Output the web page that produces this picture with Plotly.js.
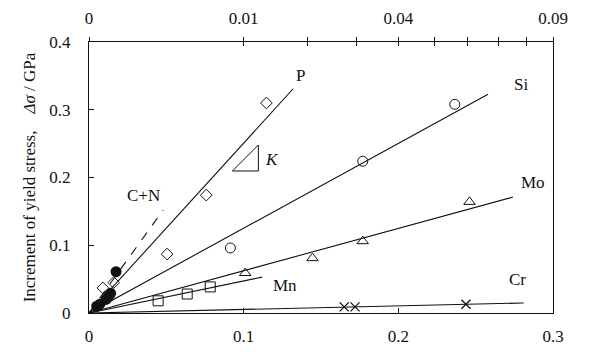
<!DOCTYPE html>
<html><head><meta charset="utf-8">
<script src="https://cdn.plot.ly/plotly-3.0.1.min.js"></script>
<style>html,body{margin:0;padding:0;background:#fff}#c{width:590px;height:356px}</style>
</head><body><div id="c"></div>
<script>
// sqrt(concentration) on bottom axis, concentration on top axis
var pX = [0.009, 0.016, 0.0505, 0.0758, 0.1147];
var pY = [0.037, 0.045, 0.087, 0.174, 0.310];
var siX = [0.0914, 0.177, 0.2365];
var siY = [0.096, 0.224, 0.308];
var moX = [0.101, 0.1445, 0.177, 0.246];
var moY = [0.059, 0.081, 0.106, 0.164];
var mnX = [0.0447, 0.0635, 0.0784];
var mnY = [0.018, 0.028, 0.0385];
var crX = [0.165, 0.172, 0.2437];
var crY = [0.009, 0.009, 0.013];
var cnX = [0.005, 0.007, 0.011, 0.0125, 0.014, 0.0175];
var cnY = [0.010, 0.013, 0.020, 0.024, 0.029, 0.061];

var lineNames = ['P', 'Si', 'Mo', 'Mn', 'Cr', 'C+N'];
var lineEndX = [0.132, 0.258, 0.274, 0.112, 0.281, 0.048];
var lineEndY = [0.331, 0.323, 0.171, 0.053, 0.0148, 0.152];

var topTickConc = [0, 0.01, 0.02, 0.03, 0.04, 0.05, 0.06, 0.07, 0.08, 0.09];
var topTickText = ['0', '0.01', '', '', '0.04', '', '', '', '', '0.09'];
var bottomTicks = [0, 0.1, 0.2, 0.3];
var yTicks = [0, 0.1, 0.2, 0.3, 0.4];

var F = 'Liberation Serif, Times New Roman, serif';
var FS = 17;
var traces = [];
for (var i = 0; i < lineNames.length; i++) {
  traces.push({x: [0, lineEndX[i]], y: [0, lineEndY[i]], mode: 'lines', type: 'scatter',
    line: {color: '#111', width: 1.1, dash: lineNames[i] === 'C+N' ? 'dash' : 'solid'},
    hoverinfo: 'skip', showlegend: false});
}
function mk(x, y, sym, size, w) {
  return {x: x, y: y, mode: 'markers', type: 'scatter', showlegend: false,
    marker: {symbol: sym, size: size, color: '#111', line: {color: '#111', width: w}}};
}
traces.push(mk(pX, pY, 'diamond-open', 9, 1));
traces.push(mk(siX, siY, 'circle-open', 10, 1));
traces.push(mk(moX, moY, 'triangle-up-open', 10, 1));
traces.push(mk(mnX, mnY, 'square-open', 10, 1));
traces.push(mk(crX, crY, 'x-thin-open', 9, 1.3));
traces.push(mk(cnX, cnY, 'circle', 11, 0));
// top axis carriers
var topVals = topTickConc.map(function (c) { return Math.sqrt(c); });
traces.push({x: [0, 0.3], y: [0, 0], xaxis: 'x2', mode: 'markers', marker: {opacity: 0}, hoverinfo: 'skip', showlegend: false});
traces.push({x: [0, 0.3], y: [0, 0], xaxis: 'x3', mode: 'markers', marker: {opacity: 0}, hoverinfo: 'skip', showlegend: false});

function ann(x, y, t, italic) {
  return {x: x, y: y, xref: 'x', yref: 'y', text: italic ? '<i>' + t + '</i>' : t, showarrow: false,
    font: {family: F, size: FS, color: '#111'}};
}
var tf = {family: F, size: FS, color: '#111'};
var layout = {
  width: 590, height: 356,
  margin: {l: 89, r: 37, t: 42, b: 43},
  paper_bgcolor: '#fff', plot_bgcolor: '#fff',
  font: tf,
  xaxis: {range: [0, 0.3], tickvals: bottomTicks, ticktext: ['0', '0.1', '0.2', '0.3'],
    ticks: 'inside', ticklen: 5, tickcolor: '#111', showgrid: false, zeroline: false,
    showline: true, linecolor: '#111', linewidth: 1.2, ticklabelstandoff: 7, tickfont: tf},
  xaxis2: {overlaying: 'x', side: 'top', range: [0, 0.3], tickvals: topVals, ticktext: topTickText,
    ticks: 'outside', ticklen: 4, tickcolor: '#111', showgrid: false, zeroline: false,
    showline: true, linecolor: '#111', linewidth: 1.2, ticklabelstandoff: 6, tickfont: tf},
  xaxis3: {overlaying: 'x', side: 'top', range: [0, 0.3], tickvals: topVals, showticklabels: false,
    ticks: 'inside', ticklen: 4, tickcolor: '#111', showgrid: false, zeroline: false, showline: false},
  yaxis: {range: [0, 0.4], tickvals: yTicks, ticktext: ['0', '0.1', '0.2', '0.3', '0.4'],
    ticks: 'inside', ticklen: 5, tickcolor: '#111', showgrid: false, zeroline: false,
    showline: true, mirror: true, linecolor: '#111', linewidth: 1.2, ticklabelstandoff: 14, tickfont: tf,
    title: {text: 'Increment of yield stress,&nbsp;&nbsp;&nbsp;&nbsp;<i>Δσ</i> / GPa', standoff: 9, font: tf}},
  shapes: [{type: 'path', xref: 'x', yref: 'y', path: 'M0.0927,0.2096 L0.1095,0.2096 L0.1095,0.248 Z',
    line: {color: '#111', width: 1}}],
  annotations: [
    ann(0.1367, 0.351, 'P'), ann(0.279, 0.337, 'Si'), ann(0.287, 0.193, 'Mo'),
    ann(0.1265, 0.041, 'Mn'), ann(0.277, 0.049, 'Cr'), ann(0.035, 0.174, 'C+N'),
    ann(0.1186, 0.226, 'K', true)
  ]
};
Plotly.newPlot('c', traces, layout, {displayModeBar: false, staticPlot: true});
</script></body></html>
